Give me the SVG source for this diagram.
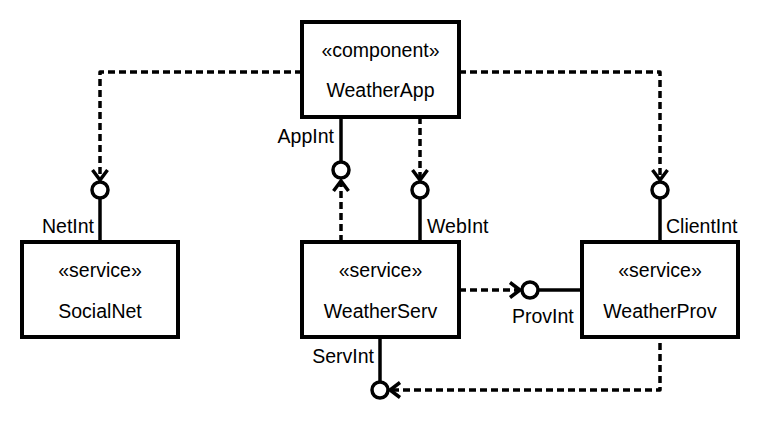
<svg xmlns="http://www.w3.org/2000/svg" width="780" height="430" viewBox="0 0 780 430">
<style>
  .box { fill: #ffffff; stroke: #000000; stroke-width: 4; }
  .t { font-family: "Liberation Sans", Arial, Helvetica, sans-serif; font-size: 19.5px; fill: #000000; }
  .c { text-anchor: middle; }
  .r { text-anchor: end; }
  .dash { fill: none; stroke: #000000; stroke-width: 3.5; stroke-dasharray: 7 4; stroke-linejoin: round; }
  .solid { fill: none; stroke: #000000; stroke-width: 3.5; }
  .lolli { fill: #ffffff; stroke: #000000; stroke-width: 3.5; }
</style>
<defs>
  <marker id="open" markerUnits="userSpaceOnUse" markerWidth="24" markerHeight="24" refX="0" refY="0" viewBox="-12 -12 24 24" orient="auto" overflow="visible">
    <path d="M-10,-7.5 L0,0 L-10,7.5" fill="none" stroke="#000000" stroke-width="3.5" stroke-dasharray="none"/>
  </marker>
</defs>
<rect x="0" y="0" width="780" height="430" fill="#ffffff"/>

<g id="connectors">
  <!-- WeatherApp -> NetInt -->
  <path class="dash" d="M302,72 L100,72 L100,180" marker-end="url(#open)"/>
  <line class="solid" x1="100" y1="198" x2="100" y2="242"/>
  <circle class="lolli" cx="100" cy="190" r="8"/>
  <!-- WeatherApp -> ClientInt -->
  <path class="dash" d="M459,72 L660,72 L660,180" marker-end="url(#open)"/>
  <line class="solid" x1="660" y1="198" x2="660" y2="242"/>
  <circle class="lolli" cx="660" cy="190" r="8"/>
  <!-- AppInt: WeatherApp provides, WeatherServ requires -->
  <line class="solid" x1="341" y1="117" x2="341" y2="162"/>
  <circle class="lolli" cx="341" cy="170" r="8"/>
  <path class="dash" d="M341,242 L341,181" marker-end="url(#open)"/>
  <!-- WebInt: WeatherServ provides, WeatherApp requires -->
  <path class="dash" d="M420,117 L420,180" marker-end="url(#open)"/>
  <line class="solid" x1="420" y1="198" x2="420" y2="242"/>
  <circle class="lolli" cx="420" cy="190" r="8"/>
  <!-- ProvInt -->
  <path class="dash" d="M459,290 L520,290" marker-end="url(#open)"/>
  <line class="solid" x1="539" y1="290" x2="582" y2="290"/>
  <circle class="lolli" cx="530" cy="290" r="8"/>
  <!-- ServInt -->
  <line class="solid" x1="380" y1="337" x2="380" y2="382"/>
  <circle class="lolli" cx="380" cy="390" r="8"/>
  <path class="dash" d="M660,343 L660,390 L390,390" marker-end="url(#open)"/>
</g>

<g id="labels">
  <text class="t r" x="94" y="233">NetInt</text>
  <text class="t r" x="334" y="143">AppInt</text>
  <text class="t" x="427" y="233">WebInt</text>
  <text class="t" x="666" y="233">ClientInt</text>
  <text class="t" x="512" y="323">ProvInt</text>
  <text class="t r" x="374" y="363">ServInt</text>
</g>

<g id="WeatherApp">
  <rect class="box" x="302" y="22" width="157" height="95"/>
  <text class="t c" x="380.5" y="57">«component»</text>
  <text class="t c" x="380.5" y="97">WeatherApp</text>
</g>
<g id="SocialNet">
  <rect class="box" x="22" y="242" width="156" height="95"/>
  <text class="t c" x="100" y="277">«service»</text>
  <text class="t c" x="100" y="318">SocialNet</text>
</g>
<g id="WeatherServ">
  <rect class="box" x="302" y="242" width="157" height="95"/>
  <text class="t c" x="380.5" y="277">«service»</text>
  <text class="t c" x="380.5" y="318">WeatherServ</text>
</g>
<g id="WeatherProv">
  <rect class="box" x="582" y="242" width="156" height="95"/>
  <text class="t c" x="660" y="277">«service»</text>
  <text class="t c" x="660" y="318">WeatherProv</text>
</g>
</svg>
